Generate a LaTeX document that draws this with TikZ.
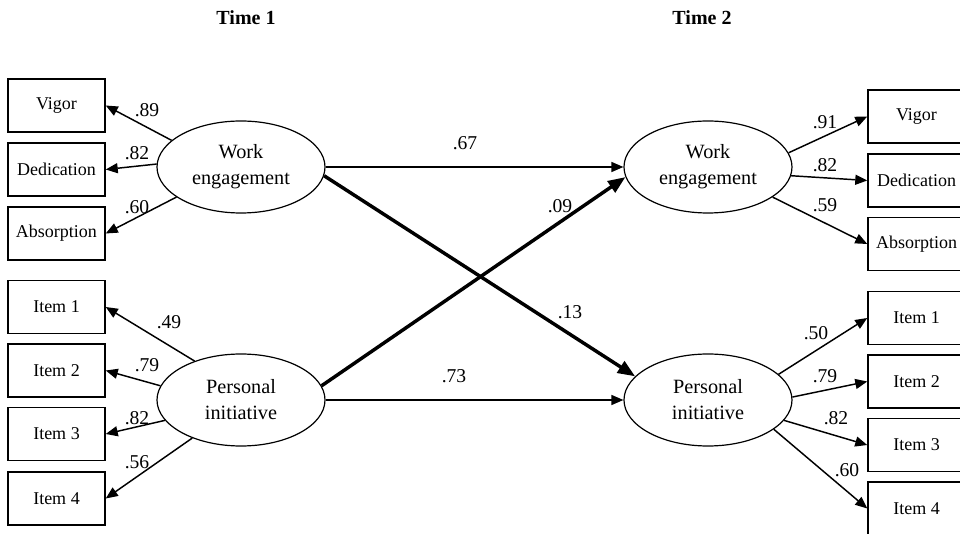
\documentclass[tikz,border=0pt]{standalone}
\usepackage{fontspec}
\setmainfont{Liberation Serif}
\usetikzlibrary{shapes.geometric}
\usetikzlibrary{arrows.meta}

\tikzset{
  latent/.style={draw, ellipse, line width=0.9pt, minimum width=126pt, minimum height=69pt,
    inner sep=0pt, align=center, font=\fontsize{15.2}{19.5}\selectfont},
  indicator/.style={draw, rectangle, line width=1.1pt, minimum width=72.75pt,
    minimum height=39.75pt, inner sep=0pt, font=\fontsize{13.5}{16}\selectfont},
  load/.style={line width=1.1pt, -{Triangle[length=9pt,width=7.5pt]}},
  crosslag/.style={line width=2.6pt, -{Triangle[length=13pt,width=10pt]}},
  coef/.style={inner sep=0pt, font=\fontsize{14.7}{17}\selectfont},
  heading/.style={font=\bfseries\fontsize{15}{18}\selectfont}
}

\begin{document}
\begin{tikzpicture}[x=0.75pt, y=-0.75pt]
  \useasboundingbox (0,0) rectangle (960,534);

  % Time labels
  \node[heading] (time1) at (246,18) {Time 1};
  \node[heading] (time2) at (702,18) {Time 2};

  % Latent factors
  \node[latent] (we1) at (241,167) {Work\\engagement};
  \node[latent] (pi1) at (241,400) {Personal\\initiative};
  \node[latent] (we2) at (708,167) {Work\\engagement};
  \node[latent] (pi2) at (708,400) {Personal\\initiative};

  % Indicators at Time 1
  \foreach \nm/\txt/\y/\ang/\val/\lx/\ly in {
      vig1/Vigor/105.5/159/.89/147/110,
      ded1/Dedication/169.5/178/.82/137/153,
      abs1/Absorption/233.5/205/.60/137/207} {
    \node[indicator] (\nm) at (56.5,\y) {\txt};
    \draw[load] (we1.\ang) -- (\nm.east);
    \node[coef] (c\nm) at (\lx,\ly) {\val};
  }
  \foreach \i/\y/\ang/\val/\lx/\ly in {
      1/307/140/.49/169/322,
      2/370.5/170/.79/147/365,
      3/434/195/.82/137/418,
      4/498.5/218/.56/137/462} {
    \node[indicator] (it\i a) at (56.5,\y) {Item \i};
    \draw[load] (pi1.\ang) -- (it\i a.east);
    \node[coef] (cit\i a) at (\lx,\ly) {\val};
  }

  % Indicators at Time 2
  \foreach \nm/\txt/\y/\ang/\val/\lx/\ly in {
      vig2/Vigor/116.5/10/.91/825/122,
      ded2/Dedication/180.5/-6/.82/825/165,
      abs2/Absorption/244/-25/.59/825/205} {
    \node[indicator] (\nm) at (916.5,\y) {\txt};
    \draw[load] (we2.\ang) -- (\nm.west);
    \node[coef] (c\nm) at (\lx,\ly) {\val};
  }
  \foreach \i/\y/\ang/\val/\lx/\ly in {
      1/318/20/.50/816/333,
      2/381.5/2/.79/825/376,
      3/445/-15/.82/836/418,
      4/508.5/-24/.60/847/470} {
    \node[indicator] (it\i b) at (916.5,\y) {Item \i};
    \draw[load] (pi2.\ang) -- (it\i b.west);
    \node[coef] (cit\i b) at (\lx,\ly) {\val};
  }

  % Stability paths
  \draw[load] (we1.east) -- (we2.west);
  \node[coef] (cwe) at (465,143) {.67};
  \draw[load] (pi1.east) -- (pi2.west);
  \node[coef] (cpi) at (454,376) {.73};

  % Cross-lagged paths
  \draw[crosslag] (we1.-6) -- (pi2.162);
  \node[coef] (cwepi) at (570,312) {.13};
  \draw[crosslag] (pi1.10) -- (we2.187);
  \node[coef] (cpiwe) at (560,206) {.09};
\end{tikzpicture}
\end{document}
